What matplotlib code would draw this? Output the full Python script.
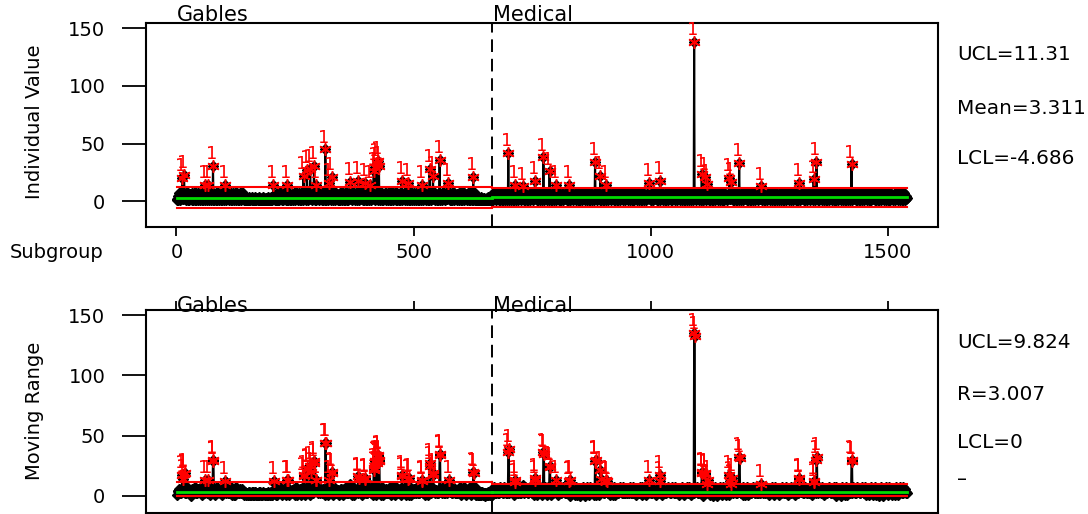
import numpy as np
import matplotlib.pyplot as plt

plt.rcParams['font.family'] = ['DejaVu Sans']

# routine readings, one digit per subgroup
baseline_rows = [
    "2151731428316251427318251316422713152815314271625182131524631724153182",
    "3152817241261318251427151328416213172531428152317215238142613172513824",
    "2131421312141321231412314121323121413121241312131214213121412131241312",
    "1725131842621317253128151327413162517243183251627142138162532714153182",
    "3182715241261318253714283152716213182541317251824318251372614213172851",
    "2715318241316281725418235162714213718253281631524131728152631824315172",
    "3162817251281431527317253162814213817253281531624171328152641823517261",
    "2814317253172631824131528172641823715281261431827315283162413172815263",
    "1825316274271381526131827142531625318271241381726231527162812413162813",
    "2131412131214131213112131214132131214182531627427138152613182714253162",
    "3182715261281431725316253182742713815261317281625318243152712613817254",
    "1725318264318271524126138172531824316271315281726427138152411826317253",
    "2814316271172531825331628172412813716254152431827326138152613182714253",
    "1623817254281431527131728162531825317264261381425131827162431725318261",
    "2813716254162531827131428172532715318264182371625131628152742713816253",
    "1825317264317281524126138172531824316271315271826427138152411826317253",
    "2814316271172531825331628172412813716254152431827326138152613182714253",
    "1623817254281431527131728162531825317264261381425131827162431725318261",
    "2813716254162531827131428172532715318264182371625131628152742713816253",
    "1725318264318271524126138172531824316271315281726427138152411826317253",
    "3182715261281431725316253182742713815261317281625318243152712613817254",
    "2814316271172531825331628172412813716254152431827326138152613182714253",
]
stage_names = ['Gables', 'Medical']
stage_starts = [1, 667]

# readings far above the routine band
spike_idx = [12, 16, 60, 66, 77, 103, 204, 234, 268, 275, 282, 290, 294, 314,
             322, 327, 366, 383, 397, 408, 416, 419, 422, 425, 427, 475, 489,
             517, 534, 541, 555, 573, 626,
             700, 714, 731, 756, 774, 787, 800, 829, 883, 894, 907, 996, 1020,
             1092, 1108, 1114, 1120, 1166, 1170, 1187, 1233, 1313, 1344, 1350,
             1424]
spike_val = [20, 23, 14, 14, 31, 14, 14, 14, 22, 27, 28, 31, 14, 45,
             16, 21, 17, 18, 16, 14, 26, 30, 33, 35, 31, 18, 16,
             14, 28, 22, 36, 16, 21,
             42, 14, 13, 18, 38, 26, 14, 14, 34, 22, 14, 16, 18,
             138, 24, 21, 15, 20, 17, 33, 13, 16, 19, 34,
             32]

# control limits for each stage
i_mean = [3.2, 3.311]
i_ucl = [12.4, 11.31]
i_lcl = [-6.0, -4.686]
mr_mean = [3.45, 3.007]
mr_ucl = [11.27, 9.824]
mr_lcl = [0.0, 0.0]

values = np.array([float(c) for c in "".join(baseline_rows)])
n = len(values)
subgroup = np.arange(1, n + 1)
values[np.array(spike_idx) - 1] = spike_val
mr = np.abs(np.diff(values))
mr_x = subgroup[1:]

stage_ends = stage_starts[1:] + [n + 1]


def stage_of(x):
    return np.searchsorted(stage_starts, x, side='right') - 1


fig = plt.figure(figsize=(10.88, 5.14), dpi=100)
ax1 = fig.add_axes([0.1339, 0.5584, 0.7285, 0.3975])
ax2 = fig.add_axes([0.1339, 0.0025, 0.7285, 0.3944])


def draw_chart(ax, x, y, mean, ucl, lcl):
    ax.plot(x, y, color='black', lw=1.5, marker='D', ms=5, mec='black',
            mfc='black', zorder=2)
    for k in range(len(stage_starts)):
        xs = [stage_starts[k] - 0.5, stage_ends[k] - 0.5]
        ax.plot(xs, [ucl[k]] * 2, color='red', lw=1.5, zorder=3)
        ax.plot(xs, [lcl[k]] * 2, color='red', lw=1.5, zorder=3)
        ax.plot(xs, [mean[k]] * 2, color='#00dd00', lw=2.0, zorder=3)
    # test 1 failures: points beyond the upper limit of their stage
    st = stage_of(x)
    flag = y > np.array(ucl)[st]
    ax.plot(x[flag], y[flag], ls='none', marker=(6, 2, 0), ms=9, mew=1.1,
            color='red', zorder=4)
    for xi, yi in zip(x[flag], y[flag]):
        ax.annotate('1', (xi, yi), xytext=(-1, 2), textcoords='offset points',
                    ha='center', va='bottom', color='red', fontsize=13,
                    zorder=5)
    ax.axvline(stage_starts[1] - 0.5, color='black', lw=1.4,
               ls=(0, (6.5, 3.5)), zorder=1)
    ax.set_xlim(-65, 1607)
    ax.set_yticks([0, 50, 100, 150])
    ax.tick_params(axis='y', length=17, width=1.3, pad=12, labelsize=14)
    for sp in ax.spines.values():
        sp.set_linewidth(1.5)


draw_chart(ax1, subgroup, values, i_mean, i_ucl, i_lcl)
draw_chart(ax2, mr_x, mr, mr_mean, mr_ucl, mr_lcl)

ax1.set_ylim(-22.3, 154.9)
ax2.set_ylim(-14.1, 154.2)

ax1.set_xticks([0, 500, 1000, 1500])
ax1.tick_params(axis='x', length=6.7, width=1.3, pad=5, labelsize=14)
ax2.set_xticks([0, 500, 1000, 1500])
ax2.tick_params(axis='x', top=True, bottom=False, labeltop=False,
                labelbottom=False, length=6.7, width=1.3)

for ax, dy in [(ax1, 1), (ax2, -1.5)]:
    for name, start in zip(stage_names, stage_starts):
        ax.annotate(name, (start, 1.0), xycoords=('data', 'axes fraction'),
                    xytext=(0, dy), textcoords='offset points',
                    ha='left', va='baseline', fontsize=15, annotation_clip=False)

fig.text(35 / 1088, 1 - 122 / 514, 'Individual Value', rotation=90,
         ha='center', va='center', fontsize=14)
fig.text(35 / 1088, 1 - 411 / 514, 'Moving Range', rotation=90,
         ha='center', va='center', fontsize=14)
fig.text(10 / 1088, 1 - 252 / 514, 'Subgroup', ha='left', va='center',
         fontsize=14)

right_labels = [
    (54, f'UCL={i_ucl[1]:.2f}'),
    (108, f'Mean={i_mean[1]:.3f}'),
    (159, f'LCL={i_lcl[1]:.3f}'),
    (343, f'UCL={mr_ucl[1]:.3f}'),
    (395, f'R={mr_mean[1]:.3f}'),
    (443, 'LCL=0'),
    (480, '\u2013'),
]
for ypx, s in right_labels:
    fig.text(957 / 1088, 1 - ypx / 514, s, ha='left', va='center', fontsize=14.4)

fig.savefig('out.png', dpi=100)
